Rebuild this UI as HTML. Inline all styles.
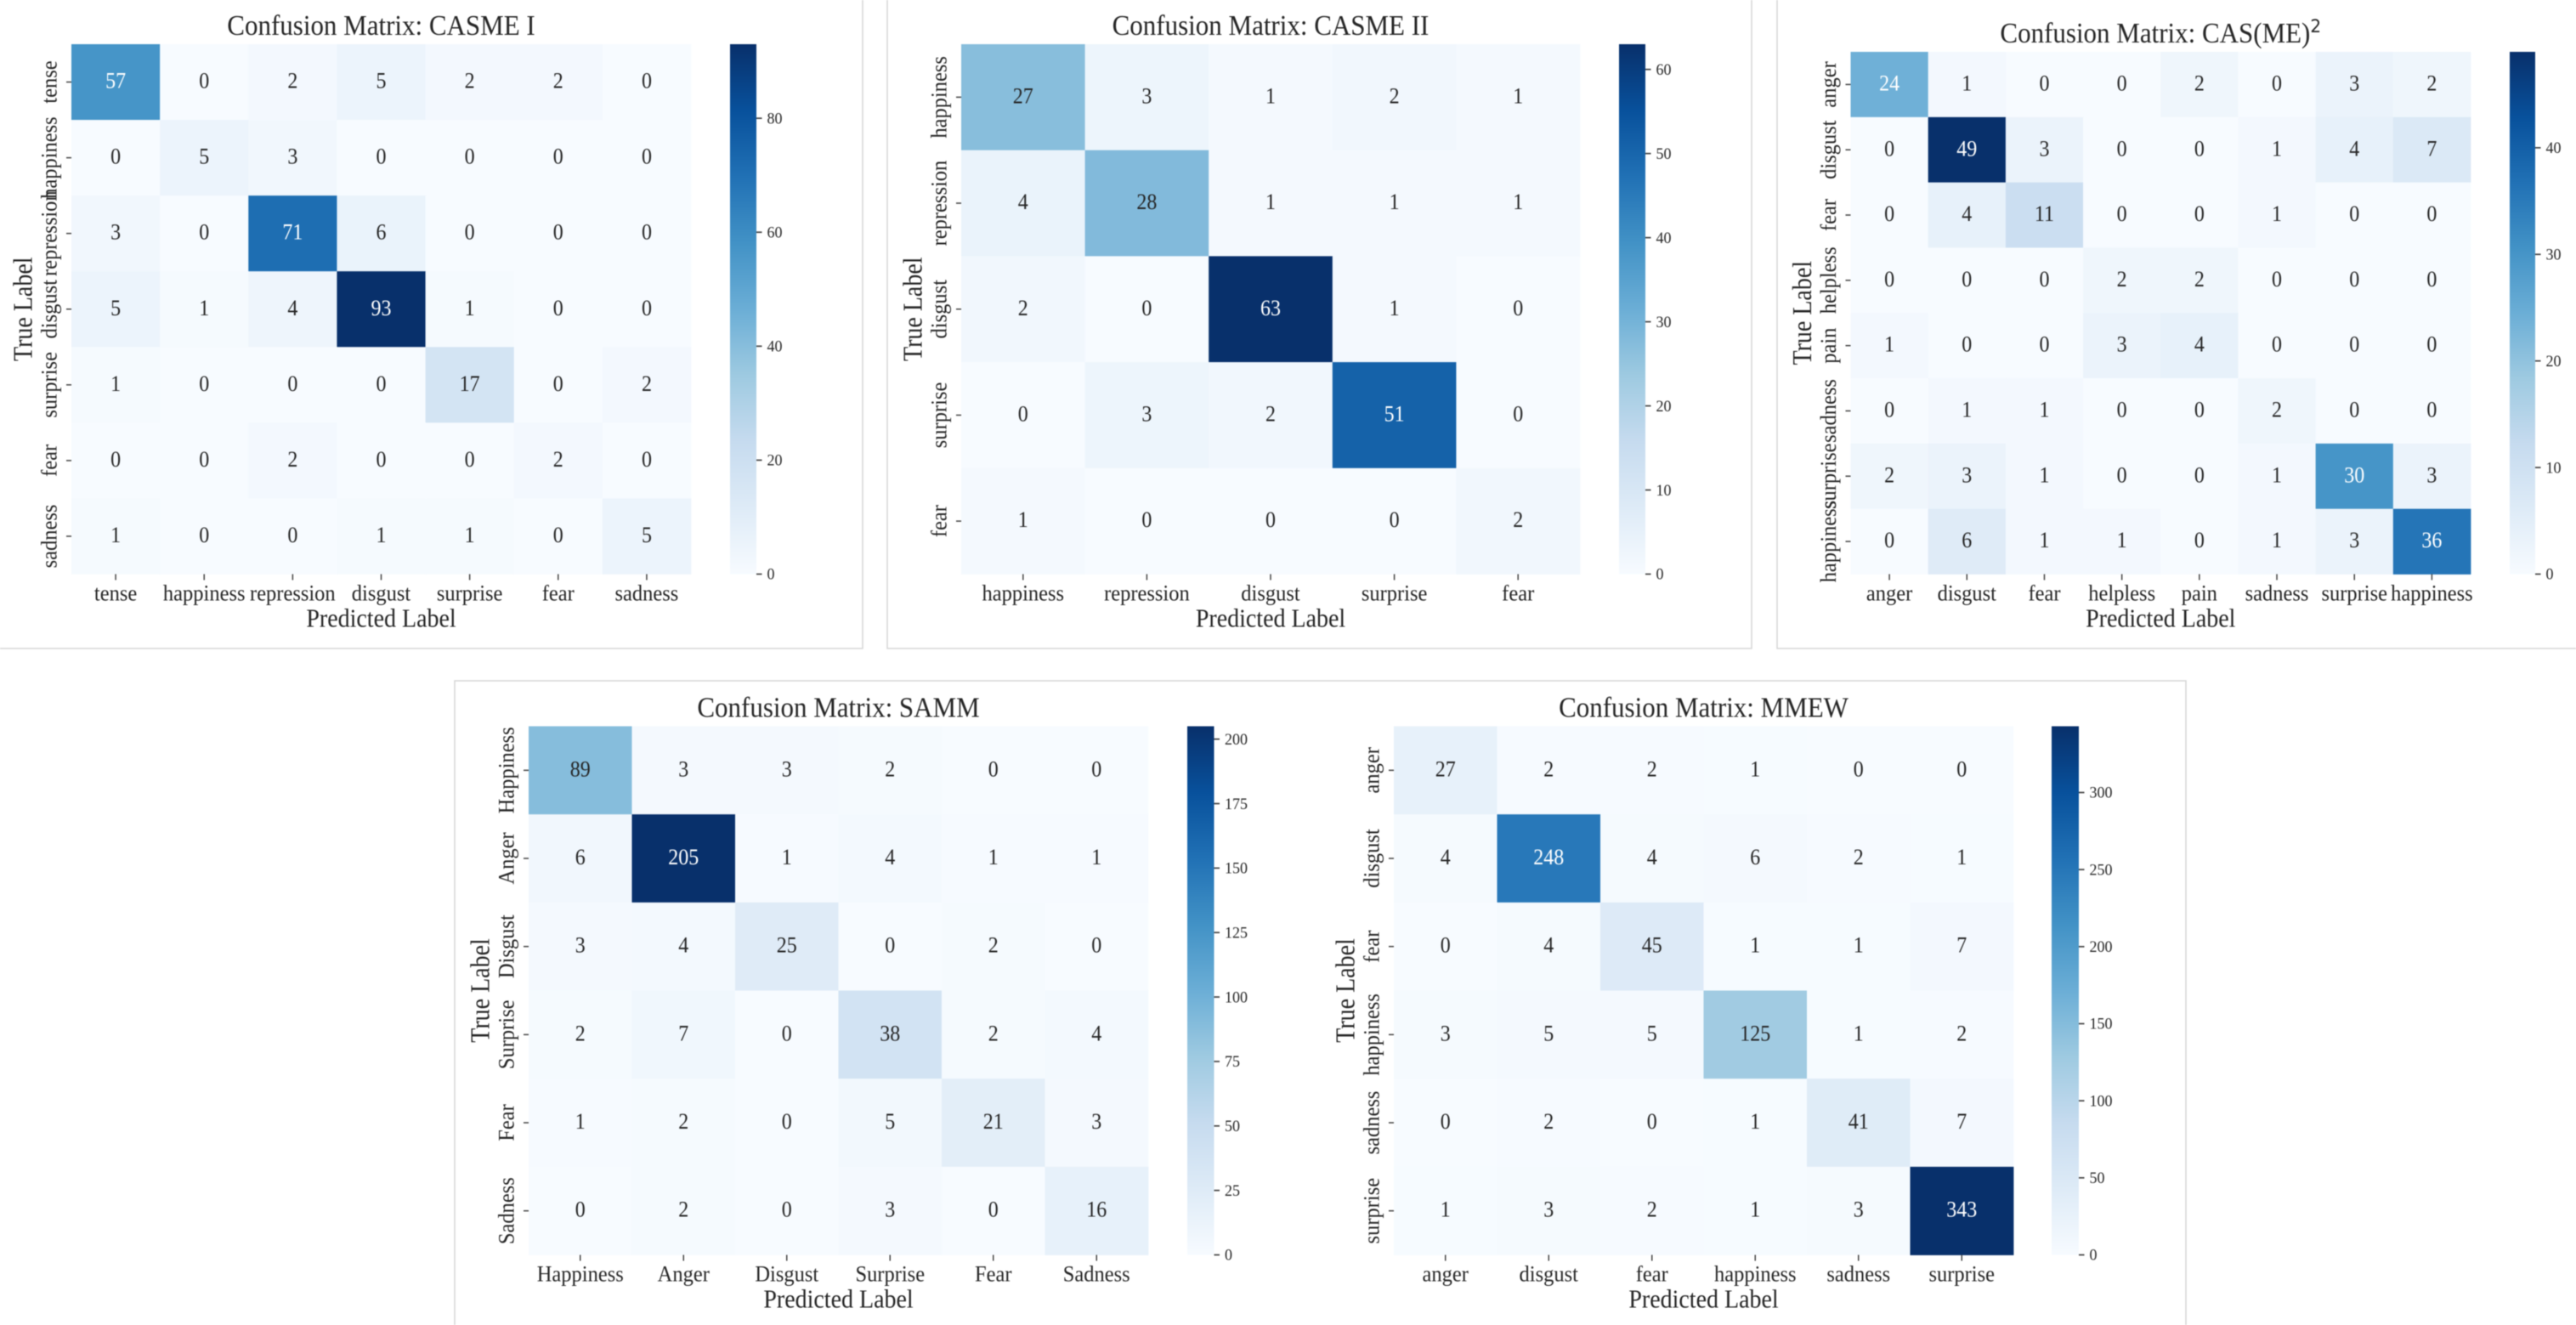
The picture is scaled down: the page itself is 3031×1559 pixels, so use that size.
<!DOCTYPE html>
<html lang="en">
<head>
<meta charset="utf-8">
<title>Confusion matrices</title>
<style>
html,body{margin:0;padding:0;background:#fff;width:3031px;height:1559px;overflow:hidden}
svg{position:absolute;left:0;top:0;display:block;filter:blur(0.6px)}
text{font-family:"Liberation Serif","Times New Roman",serif;fill:#262626}
</style>
</head>
<body>
<svg id="fig" xmlns="http://www.w3.org/2000/svg" width="3031" height="1559" viewBox="0 0 3031 1559">
  <defs id="defs"></defs>
  <g stroke="#d6d6d6" stroke-width="1.5" fill="none">
    <path d="M0 763H1015V0"/>
    <path d="M1044 0V763H2061V0"/>
    <path d="M2091 0V763H3031"/>
    <path d="M535 1559V801H2572V1559"/>
  </g>
</svg>
<script>
const casme1Labels = ["tense","happiness","repression","disgust","surprise","fear","sadness"];
const casme1Matrix = [
  [57,0,2,5,2,2,0],
  [0,5,3,0,0,0,0],
  [3,0,71,6,0,0,0],
  [5,1,4,93,1,0,0],
  [1,0,0,0,17,0,2],
  [0,0,2,0,0,2,0],
  [1,0,0,1,1,0,5]
];
const casme1Ticks = [0,20,40,60,80];

const casme2Labels = ["happiness","repression","disgust","surprise","fear"];
const casme2Matrix = [
  [27,3,1,2,1],
  [4,28,1,1,1],
  [2,0,63,1,0],
  [0,3,2,51,0],
  [1,0,0,0,2]
];
const casme2Ticks = [0,10,20,30,40,50,60];

const casme3Labels = ["anger","disgust","fear","helpless","pain","sadness","surprise","happiness"];
const casme3Matrix = [
  [24,1,0,0,2,0,3,2],
  [0,49,3,0,0,1,4,7],
  [0,4,11,0,0,1,0,0],
  [0,0,0,2,2,0,0,0],
  [1,0,0,3,4,0,0,0],
  [0,1,1,0,0,2,0,0],
  [2,3,1,0,0,1,30,3],
  [0,6,1,1,0,1,3,36]
];
const casme3Ticks = [0,10,20,30,40];

const sammLabels = ["Happiness","Anger","Disgust","Surprise","Fear","Sadness"];
const sammMatrix = [
  [89,3,3,2,0,0],
  [6,205,1,4,1,1],
  [3,4,25,0,2,0],
  [2,7,0,38,2,4],
  [1,2,0,5,21,3],
  [0,2,0,3,0,16]
];
const sammTicks = [0,25,50,75,100,125,150,175,200];

const mmewLabels = ["anger","disgust","fear","happiness","sadness","surprise"];
const mmewMatrix = [
  [27,2,2,1,0,0],
  [4,248,4,6,2,1],
  [0,4,45,1,1,7],
  [3,5,5,125,1,2],
  [0,2,0,1,41,7],
  [1,3,2,1,3,343]
];
const mmewTicks = [0,50,100,150,200,250,300];

const blues = [[247,251,255],[222,235,247],[198,219,239],[158,202,225],[107,174,214],[66,146,198],[33,113,181],[8,81,156],[8,48,107]];

const NS = "http://www.w3.org/2000/svg";
const fig = document.getElementById("fig");
const defs = document.getElementById("defs");

function blueAt(t){
  const p = Math.max(0, Math.min(1, t)) * (blues.length - 1);
  const i = Math.min(Math.floor(p), blues.length - 2);
  const f = p - i;
  return blues[i].map((c, k) => Math.round(c + (blues[i + 1][k] - c) * f));
}
function rgb(c){ return "rgb(" + c.join(",") + ")"; }
function luminance(c){
  const l = c.map(v => { v /= 255; return v <= 0.03928 ? v / 12.92 : Math.pow((v + 0.055) / 1.055, 2.4); });
  return 0.2126 * l[0] + 0.7152 * l[1] + 0.0722 * l[2];
}
function svgEl(tag, attrs, parent){
  const el = document.createElementNS(NS, tag);
  for (const k in attrs) el.setAttribute(k, attrs[k]);
  parent.appendChild(el);
  return el;
}
/* cx / cy = visual centre of the text run */
function label(parent, str, cx, cy, size, opts){
  const o = opts || {};
  const stretch = o.stretch || 1;
  const rot = o.rotate ? " rotate(-90)" : "";
  const t = svgEl("text", {
    transform: "translate(" + cx + " " + cy + ")" + rot + " scale(1 " + stretch + ")",
    "text-anchor": o.anchor || "middle",
    "font-size": size,
    y: size * (o.base === undefined ? 0.3 : o.base)
  }, parent);
  if (o.fill) t.style.fill = o.fill;
  t.textContent = str;
  return t;
}

function drawChart(c){
  const g = svgEl("g", {}, fig);
  
  

  const flat = c.matrix.reduce((a, r) => a.concat(r), []);
  const vmax = Math.max.apply(null, flat);
  const vmin = Math.min.apply(null, flat);
  const n = c.labels.length;
  const cw = (c.x1 - c.x0) / n;
  const ch = (c.y1 - c.y0) / n;
  const xScale = i => c.x0 + i * cw;
  const yScale = i => c.y0 + i * ch;
  const cbScale = v => c.y1 - (v - vmin) / (vmax - vmin) * (c.y1 - c.y0);
  const norm = v => (v - vmin) / (vmax - vmin);

  /* cells and values */
  c.matrix.forEach((row, r) => {
    row.forEach((v, col) => {
      const colour = blueAt(norm(v));
      const cell = svgEl("rect", {x: xScale(col), y: yScale(r), width: cw + 0.4, height: ch + 0.4, fill: rgb(colour)}, g);
      
      
    });
  });
  c.matrix.forEach((row, r) => {
    row.forEach((v, col) => {
      const colour = blueAt(norm(v));
      const txt = label(g, String(v), xScale(col) + cw / 2, yScale(r) + ch / 2 - 1.5, 24, {stretch: 1.08, base: 0.33, fill: luminance(colour) < 0.408 ? "#fff" : "#262626"});
      
      
    });
  });

  /* x ticks */
  c.labels.forEach((name, i) => {
    const px = xScale(i) + cw / 2;
    const tick = svgEl("line", {x1: px, x2: px, y1: c.y1, y2: c.y1 + 7, stroke: "#444", "stroke-width": 1.5}, g);
    
    
    const txt = label(g, name, px, c.y1 + 23, 24.5, {stretch: 1.08});
    
    
  });
  /* y ticks */
  c.labels.forEach((name, i) => {
    const py = yScale(i) + ch / 2;
    const tick = svgEl("line", {x1: c.x0 - 6, x2: c.x0, y1: py, y2: py, stroke: "#444", "stroke-width": 1.5}, g);
    
    
    const txt = label(g, name, c.x0 - 25.2, py, 24.5, {rotate: true, stretch: 1.06});
    
    
  });

  /* title */
  const mid = (c.x0 + c.x1) / 2;
  const title = label(g, "", mid, c.y0 - 21, 31, {stretch: 1.08, base: 0.3});
  
  
  title.textContent = "Confusion Matrix: " + c.name;
  if (c.sup) {
    const sup = svgEl("tspan", {dy: -11, "font-size": 20}, title);
    sup.setAttribute('font-family', '"DejaVu Sans", sans-serif');
    sup.textContent = c.sup;
  }

  /* axis labels */
  const xt = label(g, "Predicted Label", mid, c.y1 + 53, 28, {stretch: 1.08});
  
  
  const yt = label(g, "True Label", c.x0 - 57, (c.y0 + c.y1) / 2, 28, {rotate: true, stretch: 1.13, base: 0.33});
  
  

  /* colour bar */
  const gid = "grad-" + c.id;
  const grad = svgEl("linearGradient", {id: gid, x1: 0, y1: 1, x2: 0, y2: 0}, defs);
  blues.forEach((b, i) => {
    svgEl("stop", {offset: i / (blues.length - 1), "stop-color": rgb(b)}, grad);
  });
  const bar = svgEl("rect", {x: c.cb0, y: c.y0, width: c.cb1 - c.cb0, height: c.y1 - c.y0, fill: "url(#" + gid + ")"}, g);
  
  
  c.ticks.forEach(v => {
    const py = cbScale(v);
    const tick = svgEl("line", {x1: c.cb1, x2: c.cb1 + 6.5, y1: py, y2: py, stroke: "#444", "stroke-width": 1.7}, g);
    
    
    const txt = label(g, String(v), c.cb1 + 12.5, py, 18, {anchor: "start", stretch: 1.05, base: 0.33});
    
    
  });
}

drawChart({id:"casme1", name:"CASME I", labels:casme1Labels, matrix:casme1Matrix, ticks:casme1Ticks, x0:84, x1:813, y0:52, y1:675.5, cb0:859, cb1:890});
drawChart({id:"casme2", name:"CASME II", labels:casme2Labels, matrix:casme2Matrix, ticks:casme2Ticks, x0:1131, x1:1859, y0:52, y1:675.5, cb0:1905, cb1:1936});
drawChart({id:"casme3", name:"CAS(ME)", sup:"2", labels:casme3Labels, matrix:casme3Matrix, ticks:casme3Ticks, x0:2177.5, x1:2907, y0:61, y1:675.5, cb0:2953, cb1:2983});
drawChart({id:"samm", name:"SAMM", labels:sammLabels, matrix:sammMatrix, ticks:sammTicks, x0:622, x1:1351, y0:854.5, y1:1476.5, cb0:1397, cb1:1428.5});
drawChart({id:"mmew", name:"MMEW", labels:mmewLabels, matrix:mmewMatrix, ticks:mmewTicks, x0:1640, x1:2369, y0:854.5, y1:1476.5, cb0:2414, cb1:2446});
</script>
</body>
</html>
